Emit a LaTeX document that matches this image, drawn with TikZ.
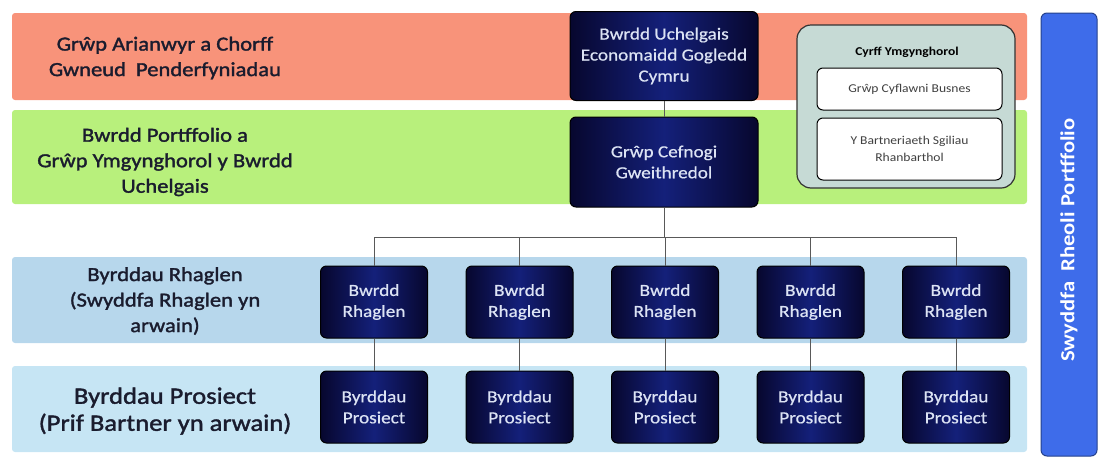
\documentclass[tikz,border=0pt]{standalone}
\usepackage{fontspec}
\setmainfont{Carlito}[FakeStretch=1.13]
\newfontfamily\lblfont{Carlito}[FakeStretch=1.13, FakeBold=1.6]
\newfontfamily\boardfont{Carlito}[FakeStretch=1.13, FakeBold=0.6]
\usetikzlibrary{positioning}

\definecolor{bandorange}{HTML}{F8937A}
\definecolor{bandgreen}{HTML}{B8F07C}
\definecolor{bandblueA}{HTML}{B7D7EC}
\definecolor{bandblueB}{HTML}{C6E5F4}
\definecolor{boxnavy}{HTML}{07072E}
\definecolor{boxblue}{HTML}{14207A}
\definecolor{boxtext}{HTML}{DCE3F4}
\definecolor{advfill}{HTML}{C6DAD5}
\definecolor{pmoblue}{HTML}{3E6CEA}
\definecolor{lbltext}{HTML}{1A1C2E}

\tikzset{
  band/.style={rounded corners=3pt},
  lbl/.style={align=center, text=lbltext, font=\lblfont\fontsize{20}{25.5}\selectfont},
  board/.style={shape=rectangle, rounded corners=6pt, draw=black, line width=1pt,
    left color=boxnavy, right color=boxnavy, middle color=boxblue,
    text=boxtext, align=center, inner sep=0pt, font=\boardfont\fontsize{17}{21}\selectfont},
  link/.style={draw=black!65, line width=0.8pt},
  advbox/.style={shape=rectangle, rounded corners=6pt, draw=black, line width=1pt,
    fill=white, align=center, inner sep=0pt, minimum width=185pt, text=black!75},
}

\begin{document}
\begin{tikzpicture}[x=1pt, y=-1pt]
  \useasboundingbox (0,0) rectangle (1099,458);

  % bands
  \fill [band, bandorange] (12,13) rectangle (1027,100);
  \fill [band, bandgreen] (12,110) rectangle (1027,204);
  \fill [band, bandblueA] (12,257) rectangle (1027,343);
  \fill [band, bandblueB] (12,366) rectangle (1027,452);

  \node [lbl] (lfund) at (165,58) {Grŵp Arianwyr a Chorff\\Gwneud\enspace Penderfyniadau};
  \node [lbl] (lport) at (165,162) {Bwrdd Portffolio a\\Grŵp Ymgynghorol y Bwrdd\\Uchelgais};
  \node [lbl] (lprog) at (165,301) {Byrddau Rhaglen\\(Swyddfa Rhaglen yn\\arwain)};
  \node [lbl, font=\lblfont\fontsize{23.5}{27}\selectfont] (lproj) at (165,411) {Byrddau Prosiect\\(Prif Bartner yn arwain)};

  % main boards
  \node [board, minimum width=188pt, minimum height=89pt] (uchel) at (664,56)
    {Bwrdd Uchelgais\\Economaidd Gogledd\\Cymru};
  \node [board, minimum width=188pt, minimum height=90pt] (cefnogi) at (664,162)
    {Grŵp Cefnogi\\Gweithredol};
  \coordinate (hub) at (664,237);

  \foreach \i/\x in {1/374, 2/519.5, 3/665, 4/810.5, 5/956} {
    \node [board, minimum width=107pt, minimum height=72pt] (rh\i) at (\x,302) {Bwrdd\\Rhaglen};
    \node [board, minimum width=107pt, minimum height=72pt] (pr\i) at (\x,407) {Byrddau\\Prosiect};
  }

  \path [link] (uchel) edge (cefnogi);
  \path [link] (cefnogi) edge (hub);
  \foreach \i in {1,...,5} {
    \draw [link] (rh\i.north) |- (hub);
    \path [link] (rh\i) edge (pr\i);
  }

  % advisory bodies
  \node [shape=rectangle, rounded corners=14pt, draw=black!80, line width=1.2pt, fill=advfill,
    minimum width=218pt, minimum height=163pt] (cyrff) at (906,106.5) {};
  \node [font=\fontsize{12}{14}\selectfont\bfseries] (cyrfftitle) at (907,52) {Cyrff Ymgynghorol};
  \node [advbox, minimum height=42pt, font=\fontsize{12}{14}\selectfont] (busnes) at (909.5,89) {Grŵp Cyflawni Busnes};
  \node [advbox, minimum height=62pt, font=\fontsize{12}{17}\selectfont] (sgiliau) at (909.5,149)
    {Y Bartneriaeth Sgiliau\\Rhanbarthol};

  % portfolio office
  \node [shape=rectangle, rounded corners=6pt, fill=pmoblue, draw=pmoblue!60!black, line width=1pt,
    minimum width=56pt, minimum height=443pt] (pmo) at (1069,234.5) {};
  \node [rotate=90, text=white, font=\fontsize{20}{22}\selectfont\bfseries] (pmotext) at (1069,240)
    {Swyddfa\enspace Rheoli Portffolio};
\end{tikzpicture}
\end{document}
